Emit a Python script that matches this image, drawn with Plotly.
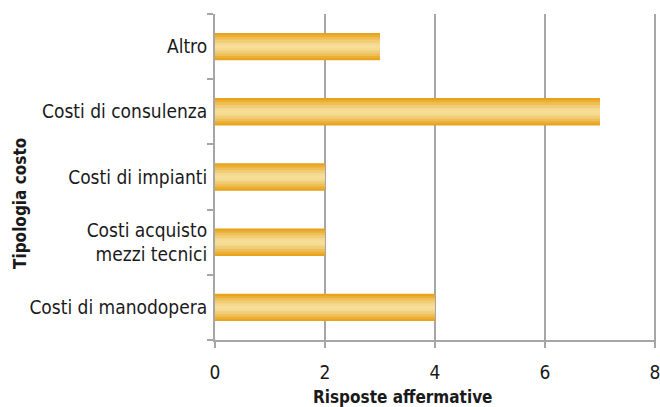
import plotly.graph_objects as go

categories = ["Costi di manodopera", "Costi acquisto<br>mezzi tecnici", "Costi di impianti",
              "Costi di consulenza", "Altro"]
values = [4, 2, 2, 7, 3]
x_ticks = [0, 2, 4, 6, 8]

# layered bars to imitate a vertical gradient
layers = [
    (0.42, "#E8A21C"),
    (0.36, "#EBAF35"),
    (0.29, "#EFBF57"),
    (0.21, "#F2CD77"),
    (0.12, "#F5D98E"),
    (0.05, "#F6DE98"),
]

FONT = "DejaVu Sans Condensed, Liberation Sans Narrow, sans-serif"

L, R, T, B = 215, 4, 14, 67
W, H = 660, 407
pw, ph = W - L - R, H - T - B

fig = go.Figure()
for w, c in layers:
    fig.add_trace(go.Bar(
        y=categories, x=values, orientation="h", width=w,
        marker=dict(color=c, line=dict(width=0)),
        hoverinfo="skip", showlegend=False,
    ))

fig.update_layout(
    width=W, height=H,
    barmode="overlay",
    plot_bgcolor="white", paper_bgcolor="white",
    margin=dict(l=L, r=R, t=T, b=B, autoexpand=False),
    font=dict(family=FONT, size=19, color="#1a1a1a"),
    annotations=[
        dict(text="<b>Risposte affermative</b>", xref="paper", yref="paper",
             x=(402 - L) / pw, y=-(397 - (H - B)) / ph, xanchor="center", yanchor="middle",
             showarrow=False, font=dict(size=17, family=FONT)),
        dict(text="<b>Tipologia costo</b>", xref="paper", yref="paper", textangle=-90,
             x=-(L - 20) / pw, y=((H - B) - 204) / ph, xanchor="center", yanchor="middle",
             showarrow=False, font=dict(size=17, family=FONT)),
    ],
)
fig.update_xaxes(
    range=[0, 8.02], tickvals=x_ticks, ticktext=[str(v) for v in x_ticks],
    showgrid=True, gridcolor="#A6A6A6", gridwidth=2,
    showline=True, linecolor="#A6A6A6", linewidth=2,
    ticks="outside", ticklen=6, tickwidth=2, tickcolor="#A6A6A6",
    ticklabelstandoff=8, ticklabeloverflow="allow", zeroline=False, automargin=False,
)
fig.update_yaxes(
    type="category", categoryorder="array", categoryarray=categories,
    range=[-0.5, 4.5], automargin=False,
    showgrid=False, showline=True, linecolor="#A6A6A6", linewidth=2,
    ticks="outside", tickson="boundaries", ticklen=6, tickwidth=2, tickcolor="#A6A6A6",
    ticklabelstandoff=2,
)

fig.write_html("out.html", config={"displayModeBar": False},
               post_script="document.body.style.margin='0px';")
